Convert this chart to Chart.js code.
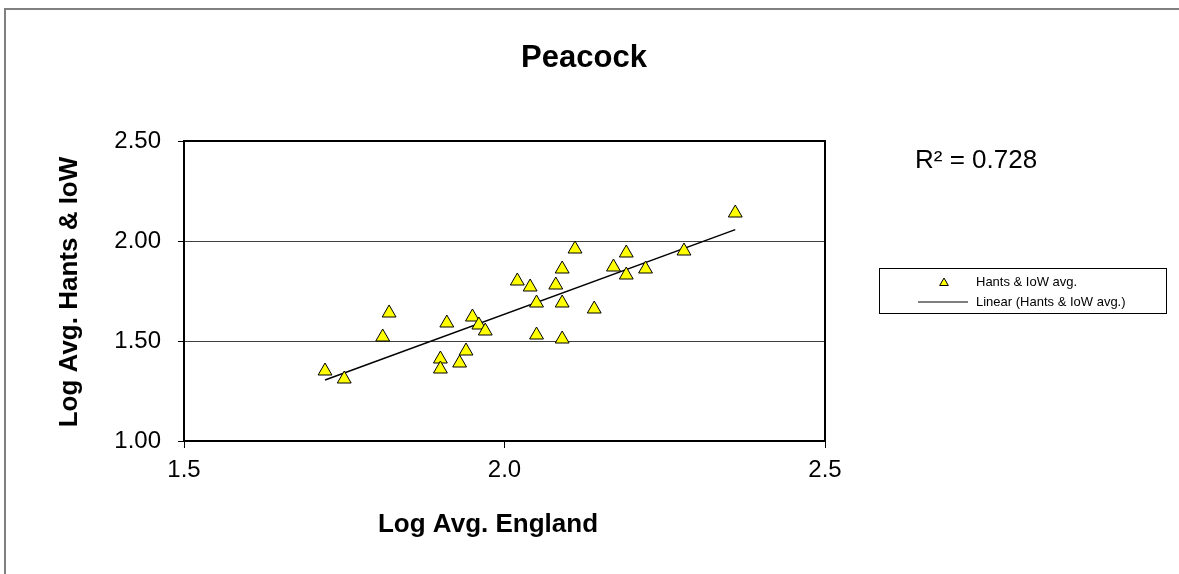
<!DOCTYPE html>
<html>
<head>
<meta charset="utf-8">
<script src="https://cdn.jsdelivr.net/npm/chart.js@4.4.1/dist/chart.umd.min.js"></script>
<style>
  html, body { margin: 0; padding: 0; background: #fff; }
  #chart { display: block; }
</style>
</head>
<body>
<canvas id="chart" width="1179" height="574"></canvas>
<script>
// Données (log des moyennes)
var chartTitle = 'Peacock';
var xTitle = 'Log Avg. England';
var yTitle = 'Log Avg. Hants & IoW';
var seriesName = 'Hants & IoW avg.';
var trendName = 'Linear (Hants & IoW avg.)';
var rSquaredLabel = 'R\u00b2 = 0.728';

var englandLog = [1.72, 1.75, 1.82, 1.81, 1.91, 1.90, 1.90, 1.93, 1.94, 1.95, 1.96, 1.97, 2.02, 2.04,
                  2.05, 2.05, 2.08, 2.09, 2.09, 2.09, 2.11, 2.14, 2.17, 2.19, 2.19, 2.22, 2.28, 2.36];
var hantsLog   = [1.35, 1.31, 1.64, 1.52, 1.59, 1.41, 1.36, 1.39, 1.45, 1.62, 1.58, 1.55, 1.80, 1.77,
                  1.69, 1.53, 1.78, 1.86, 1.69, 1.51, 1.96, 1.66, 1.87, 1.94, 1.83, 1.86, 1.95, 2.14];

var xTicks = [1.5, 2.0, 2.5];
var yTicks = [1.0, 1.5, 2.0, 2.5];

var FONT = '"Liberation Sans", Arial, sans-serif';

// Régression linéaire (courbe de tendance)
function linearFit(xs, ys) {
    var n = xs.length, sx = 0, sy = 0, sxx = 0, sxy = 0;
    for (var i = 0; i < n; i++) {
        sx += xs[i]; sy += ys[i]; sxx += xs[i] * xs[i]; sxy += xs[i] * ys[i];
    }
    var slope = (n * sxy - sx * sy) / (n * sxx - sx * sx);
    return { slope: slope, intercept: (sy - slope * sx) / n };
}
var fit = linearFit(englandLog, hantsLog);
var xMin = Math.min.apply(null, englandLog), xMax = Math.max.apply(null, englandLog);
var trendPoints = [
    { x: xMin, y: fit.intercept + fit.slope * xMin },
    { x: xMax, y: fit.intercept + fit.slope * xMax }
];

// Titre, cadre, légende et R² dessinés à la main
var decorations = {
    id: 'decorations',
    beforeDatasetsDraw: function(chart) {
        var ctx = chart.ctx, a = chart.chartArea;
        ctx.save();
        ctx.strokeStyle = '#000';
        ctx.lineWidth = 2;
        ctx.strokeRect(a.left, a.top, a.right - a.left, a.bottom - a.top);
        ctx.restore();
    },
    afterDraw: function(chart) {
        var ctx = chart.ctx;
        ctx.save();
        // cadre extérieur
        ctx.strokeStyle = '#808080';
        ctx.lineWidth = 2;
        ctx.beginPath();
        ctx.moveTo(5, 574); ctx.lineTo(5, 9); ctx.lineTo(1179, 9);
        ctx.stroke();

        ctx.fillStyle = '#000';
        ctx.textAlign = 'center';
        ctx.textBaseline = 'alphabetic';
        ctx.font = 'bold 31px ' + FONT;
        ctx.fillText(chartTitle, 584, 67);

        ctx.font = 'bold 26px ' + FONT;
        ctx.fillText(xTitle, 488, 532);

        ctx.save();
        ctx.translate(77, 292);
        ctx.rotate(-Math.PI / 2);
        ctx.fillText(yTitle, 0, 0);
        ctx.restore();

        ctx.textAlign = 'left';
        ctx.font = '26px ' + FONT;
        ctx.fillText(rSquaredLabel, 915, 168);

        // légende
        ctx.strokeStyle = '#000';
        ctx.lineWidth = 1;
        ctx.strokeRect(879.5, 268.5, 287, 45);
        ctx.beginPath();
        var tx = 944, ty = 283, r = 5;
        ctx.moveTo(tx, ty - r);
        ctx.lineTo(tx + r * 0.866, ty + r / 2);
        ctx.lineTo(tx - r * 0.866, ty + r / 2);
        ctx.closePath();
        ctx.fillStyle = '#FFFF00';
        ctx.fill();
        ctx.stroke();
        ctx.beginPath();
        ctx.moveTo(918, 302); ctx.lineTo(968, 302);
        ctx.stroke();
        ctx.fillStyle = '#000';
        ctx.font = '13px ' + FONT;
        ctx.textBaseline = 'middle';
        ctx.fillText(seriesName, 976, 282);
        ctx.fillText(trendName, 976, 302);
        ctx.restore();
    }
};

var ctx = document.getElementById('chart').getContext('2d');
var chart = new Chart(ctx, {
    type: 'scatter',
    data: {
        datasets: [{
            label: seriesName,
            data: englandLog.map(function(x, i) { return { x: x, y: hantsLog[i] }; }),
            pointStyle: 'triangle',
            pointRadius: 8,
            pointBackgroundColor: '#FFFF00',
            pointBorderColor: '#000',
            pointBorderWidth: 1,
            order: 1
        }, {
            label: trendName,
            type: 'line',
            data: trendPoints,
            borderColor: '#000',
            borderWidth: 1.5,
            pointRadius: 0,
            fill: false,
            order: 2
        }]
    },
    options: {
        responsive: false,
        animation: false,
        layout: { padding: { top: 141, right: 354, left: 0, bottom: 0 } },
        plugins: { legend: { display: false }, tooltip: { enabled: false } },
        scales: {
            x: {
                type: 'linear',
                min: 1.5,
                max: 2.5,
                afterBuildTicks: function(s) { s.ticks = xTicks.map(function(v) { return { value: v }; }); },
                afterFit: function(s) { s.height = 133; },
                ticks: {
                    callback: function(v) { return Number(v).toFixed(1); },
                    font: { family: FONT, size: 24 },
                    color: '#000',
                    padding: 8,
                    maxRotation: 0
                },
                grid: { drawOnChartArea: false, tickLength: 7, tickColor: '#000', tickWidth: 1 },
                border: { color: '#000', width: 2 }
            },
            y: {
                min: 1,
                max: 2.5,
                afterBuildTicks: function(s) { s.ticks = yTicks.map(function(v) { return { value: v }; }); },
                afterFit: function(s) { s.width = 184; },
                ticks: {
                    callback: function(v) { return Number(v).toFixed(2); },
                    font: { family: FONT, size: 24 },
                    color: '#000',
                    padding: 17
                },
                grid: { color: '#404040', lineWidth: 1, tickLength: 6, tickColor: '#000', tickWidth: 1 },
                border: { color: '#000', width: 2 }
            }
        }
    },
    plugins: [decorations]
});
</script>
</body>
</html>
